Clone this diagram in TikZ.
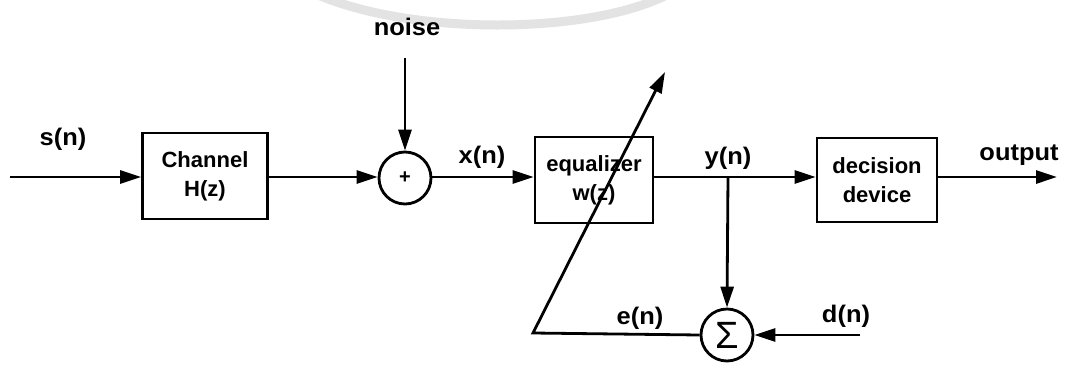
\documentclass[tikz,border=0pt]{standalone}
\usepackage{fontspec}
\setmainfont{Liberation Sans}
\newfontfamily\lblfont{Liberation Sans}[FakeStretch=1.06]
\usetikzlibrary{arrows.meta}
\begin{document}
\begin{tikzpicture}[x=1pt,y=-1pt,
  line width=2.8pt,
  sig/.style={-{Triangle[length=21pt,width=13pt]}},
  blk/.style={draw,minimum width=#1,align=center,font=\fontsize{22}{29}\selectfont\bfseries,inner sep=0pt},
  lbl/.style={font=\lblfont\fontsize{24}{26}\selectfont\bfseries,inner sep=0pt},
  sumc/.style={draw,circle,minimum size=52pt,inner sep=0pt}]
\useasboundingbox (0,0) rectangle (1072,365);
\fill[white] (0,0) rectangle (1072,365);
% faint watermark ring
\draw[gray!22,line width=9pt] (290,-20) .. controls (380,40) and (620,40) .. (690,-20);
% blocks
\node[blk=125pt,minimum height=86pt] (ch) at (205,176) {Channel\\H(z)};
\node[sumc] (add) at (405,178) {\fontsize{20}{20}\selectfont\bfseries +};
\node[blk=118pt,minimum height=86pt] (eq) at (594,180) {equalizer\\w(z)};
\node[blk=120pt,minimum height=84pt] (dd) at (877,180) {decision\\device};
\node[sumc] (sig) at (727,335) {\fontsize{38}{38}\selectfont Σ};
% coordinates
\coordinate (in) at (10,177);
\coordinate (nz) at (405,58);
\coordinate (br) at (728,177);
\coordinate (out) at (1057,177);
\coordinate (dn) at (860,335);
\coordinate (ec) at (533,333);
\coordinate (tip) at (665,72);
% labels
\node[lbl] (noise) at (407,27) {noise};
\node[lbl] (sn) at (63,139) {s(n)};
\node[lbl] (xn) at (482,157) {x(n)};
\node[lbl] (yn) at (728,158) {y(n)};
\node[lbl] (outl) at (1019,155) {output};
\node[lbl] (en) at (640,318) {e(n)};
\node[lbl] (dnl) at (846,316) {d(n)};
% connectors
\draw[sig] (in) -- (ch.west |- in);
\draw[sig] (ch.east |- in) -- (add.west |- in);
\draw[sig] (nz) -- (add.north);
\draw[sig] (add.east |- in) -- (eq.west |- in);
\draw (eq.east |- in) -- (br);
\draw[sig] (br) -- (dd.west |- br);
\draw[sig] (dd.east |- br) -- (out);
\draw[sig] (br) -- (sig.north);
\draw[sig] (dn) -- (sig.east);
\draw[sig,line join=miter] (sig.west) -- (ec) -- (tip);
\end{tikzpicture}
\end{document}
